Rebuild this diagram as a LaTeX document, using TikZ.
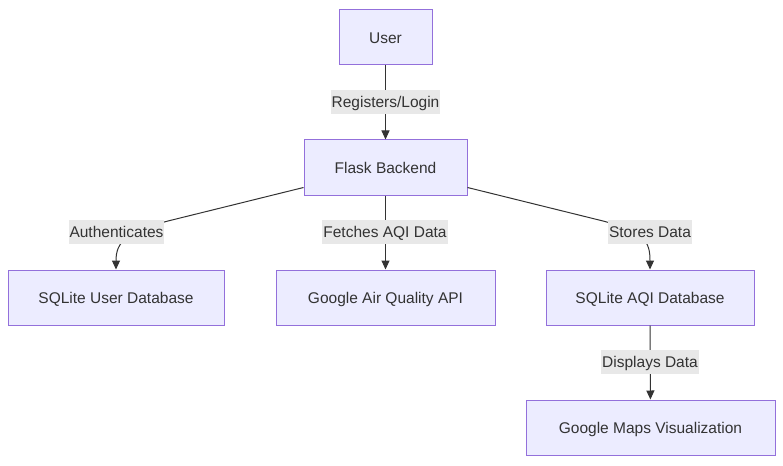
\documentclass[tikz,border=0pt]{standalone}
\usepackage{fontspec}
\setmainfont{Liberation Sans}
\usetikzlibrary{arrows.meta, positioning, calc}
\definecolor{boxfill}{HTML}{ECECFF}
\definecolor{boxline}{HTML}{9370DB}
\definecolor{ink}{HTML}{333333}
\definecolor{labelbg}{HTML}{E8E8E8}
\begin{document}
\begin{tikzpicture}[x=1pt,y=-1pt,
  box/.style={draw=boxline,fill=boxfill,line width=1pt,minimum height=55pt,
    inner sep=0pt,text=ink,text height=12.5pt,text depth=1pt,
    font=\fontsize{15.5}{18}\selectfont},
  lbl/.style={fill=labelbg,minimum height=24pt,inner xsep=1pt,inner ysep=0pt,
    text=ink,text height=12.5pt,text depth=1pt,font=\fontsize{15.5}{18}\selectfont},
  flow/.style={draw=ink,line width=1pt,-{Triangle[length=9pt,width=8pt]}}]
\useasboundingbox (0,0) rectangle (783,465);
% Boxes
\node[box,minimum width=93pt] (user) at (385.5,37.5) {User};
\node[box,minimum width=163pt] (flask) at (385.5,167.5) {Flask Backend};
\node[box,minimum width=216pt] (usrdb) at (116,297.5) {SQLite User Database};
\node[box,minimum width=219pt] (api) at (385.5,297.5) {Google Air Quality API};
\node[box,minimum width=208pt] (aqidb) at (650,297.5) {SQLite AQI Database};
\node[box,minimum width=249pt] (maps) at (650.5,427.5) {Google Maps Visualization};
% Connectors
\draw[flow] (user) -- (flask);
\draw[flow] ($(flask.south west)+(0,-8)$) -- (168,221)
  .. controls (126,232) and (116,242) .. (usrdb.north);
\draw[flow] (flask) -- (api);
\draw[flow] ($(flask.south east)+(0,-8)$) -- (603,221)
  .. controls (645,232) and (650,242) .. (aqidb.north);
\draw[flow] (aqidb) -- (maps);
% Edge labels
\node[lbl] (regl) at (385.5,102) {Registers/Login};
\node[lbl] (authl) at (116.5,232) {Authenticates};
\node[lbl] (fetchl) at (385,232) {Fetches AQI Data};
\node[lbl] (storel) at (650,232) {Stores Data};
\node[lbl] (dispml) at (650,362) {Displays Data};
\end{tikzpicture}
\end{document}
